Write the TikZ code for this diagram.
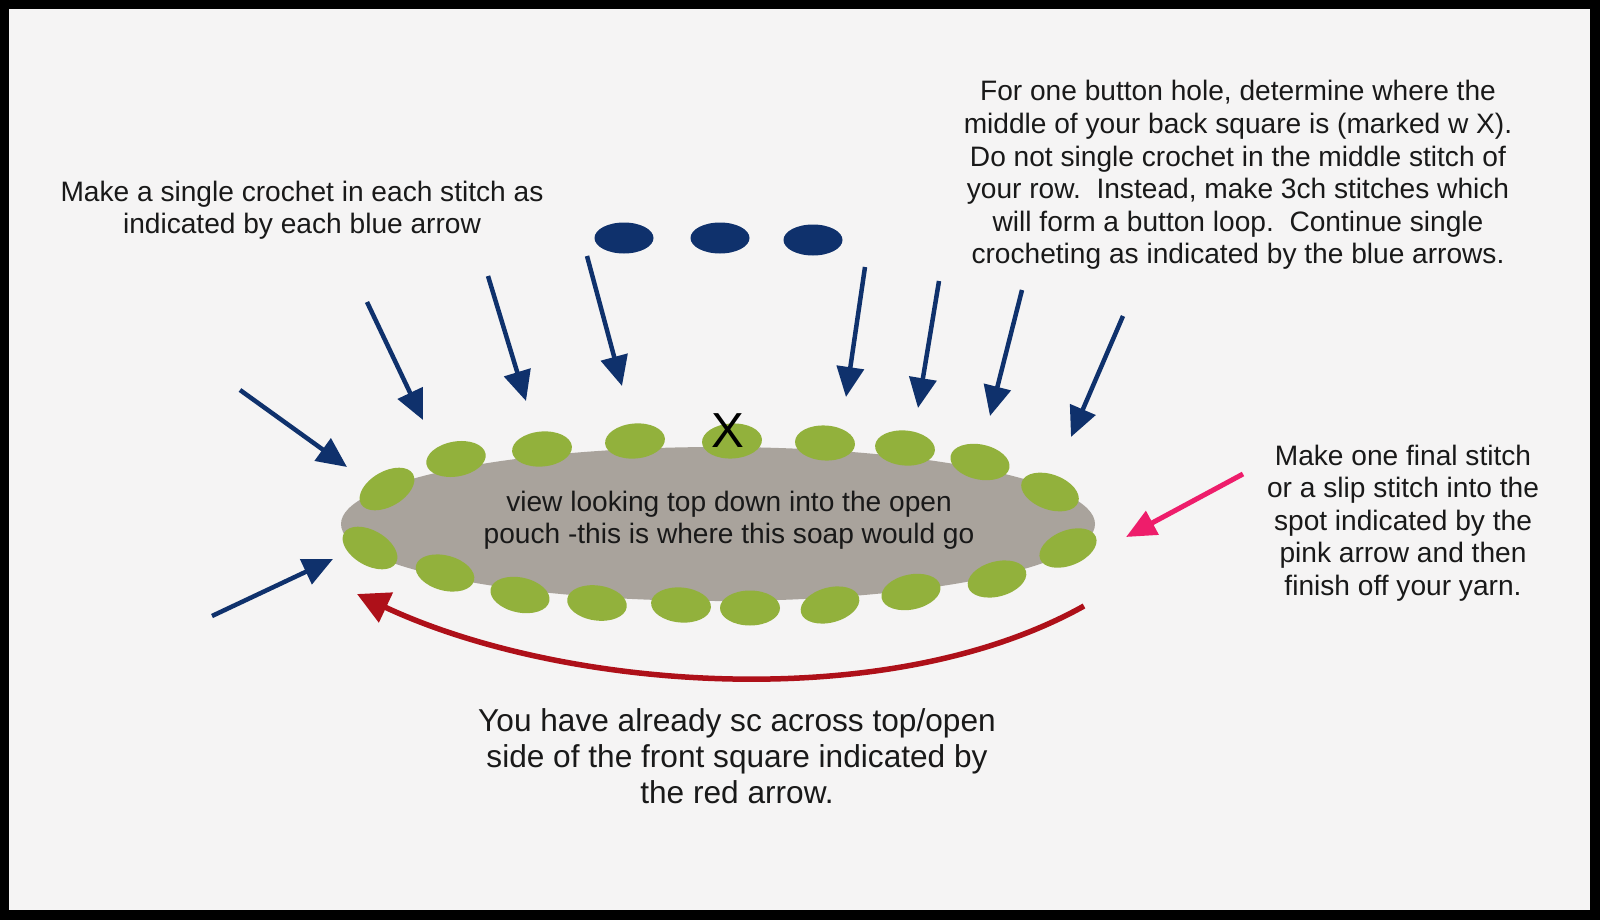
\documentclass[tikz,border=0pt]{standalone}
\usepackage{fontspec}
\setmainfont{Liberation Sans}
\usetikzlibrary{positioning, arrows.meta, shapes.geometric}
\definecolor{navy}{HTML}{0F316C}
\definecolor{stitchgreen}{HTML}{92B13C}
\definecolor{pouchgray}{HTML}{A9A39C}
\definecolor{darkred}{HTML}{AE1019}
\definecolor{pinkish}{HTML}{EE1D6B}
\definecolor{paper}{HTML}{F5F4F4}
\tikzset{
  stitch/.style={ellipse, fill=stitchgreen, minimum width=6mm, minimum height=3.5mm, inner sep=0pt},
  chainst/.style={ellipse, fill=navy, minimum width=5.9mm, minimum height=3.1mm, inner sep=0pt},
  scarrow/.style={draw=navy, line width=0.45mm, -{Triangle[length=3mm,width=2.7mm]}},
  note/.style={align=center, font=\fontsize{8}{9.25}\selectfont, text=black!90, inner sep=0pt}
}

\begin{document}
\begin{tikzpicture}[x=0.1mm, y=-0.1mm]
                                \fill[black] (0,0) rectangle (1600,920);
                                \fill[paper] (9,9) rectangle (1590,910);
                                \node[ellipse, fill=pouchgray, minimum width=75.4mm, minimum height=15.4mm] (pouch) at (718,524) {};
                                \node[stitch, rotate=30] (st1) at (387,489) {};
                                \node[stitch, rotate=10] (st2) at (456,459) {};
                                \node[stitch, rotate=5] (st3) at (542,449) {};
                                \node[stitch, rotate=5] (st4) at (635,441) {};
                                \node[stitch, rotate=3] (st5) at (732,441) {};
                                \node[stitch, rotate=-3] (st6) at (825,443) {};
                                \node[stitch, rotate=-5] (st7) at (905,448) {};
                                \node[stitch, rotate=-12] (st8) at (980,462) {};
                                \node[stitch, rotate=-20] (st9) at (1050,492) {};
                                \node[stitch, rotate=22] (st10) at (1068,548) {};
                                \node[stitch, rotate=15] (st11) at (997,579) {};
                                \node[stitch, rotate=12] (st12) at (911,592) {};
                                \node[stitch, rotate=15] (st13) at (830,605) {};
                                \node[stitch, rotate=0] (st14) at (750,608) {};
                                \node[stitch, rotate=-5] (st15) at (681,605) {};
                                \node[stitch, rotate=-8] (st16) at (597,603) {};
                                \node[stitch, rotate=-12] (st17) at (520,595) {};
                                \node[stitch, rotate=-15] (st18) at (445,573) {};
                                \node[stitch, rotate=-30] (st19) at (370,548) {};
                                \node[font=\fontsize{14}{14}\selectfont, inner sep=0pt] (mark) at (728,431) {X};
                                \node[chainst] (ch1) at (624,238) {};
                                \node[chainst] (ch2) at (720,238) {};
                                \node[chainst] (ch3) at (813,240) {};
                                \coordinate (a1) at (240,390);
                                \coordinate (b1) at (347,467);
                                \coordinate (a2) at (367,302);
                                \coordinate (b2) at (423,420);
                                \coordinate (a3) at (488,276);
                                \coordinate (b3) at (526,401);
                                \coordinate (a4) at (587,256);
                                \coordinate (b4) at (622,386);
                                \coordinate (a5) at (865,267);
                                \coordinate (b5) at (846,397);
                                \coordinate (a6) at (939,281);
                                \coordinate (b6) at (918,408);
                                \coordinate (a7) at (1022,290);
                                \coordinate (b7) at (990,416);
                                \coordinate (a8) at (1123,316);
                                \coordinate (b8) at (1071,437);
                                \coordinate (a9) at (212,616);
                                \coordinate (b9) at (333,559);
                                \draw[scarrow] (a1) -- (b1);
                                \draw[scarrow] (a2) -- (b2);
                                \draw[scarrow] (a3) -- (b3);
                                \draw[scarrow] (a4) -- (b4);
                                \draw[scarrow] (a5) -- (b5);
                                \draw[scarrow] (a6) -- (b6);
                                \draw[scarrow] (a7) -- (b7);
                                \draw[scarrow] (a8) -- (b8);
                                \draw[scarrow] (a9) -- (b9);
                                \coordinate (p0) at (1243,474);
                                \coordinate (p1) at (1126,537);
                                \draw[pinkish, line width=0.5mm, -{Triangle[length=3mm,width=2.6mm]}] (p0) -- (p1);
                                \coordinate (r0) at (1084,606);
                                \coordinate (r1) at (357,594);
                                \draw[darkred, line width=0.55mm, -{Triangle[length=3.2mm,width=3.2mm]}] (r0) .. controls (887,716) and (562,690) .. (r1);
                                \node[note] (leftnote) at (302,210) {Make a single crochet in each stitch as\\indicated by each blue arrow};
                                \node[note] (topnote) at (1238,175) {For one button hole, determine where the\\middle of your back square is (marked w X).\\Do not single crochet in the middle stitch of\\your row.\ \ Instead, make 3ch stitches which\\will form a button loop.\ \ Continue single\\crocheting as indicated by the blue arrows.};
                                \node[note] (view) at (729,520) {view looking top down into the open\\pouch -this is where this soap would go};
                                \node[note] (finalnote) at (1403,523) {Make one final stitch\\or a slip stitch into the\\spot indicated by the\\pink arrow and then\\finish off your yarn.};
                                \node[note, font=\fontsize{9}{10.3}\selectfont] (rednote) at (737,756) {You have already sc across top/open\\side of the front square indicated by\\the red arrow.};
                            \end{tikzpicture}
\end{document}
